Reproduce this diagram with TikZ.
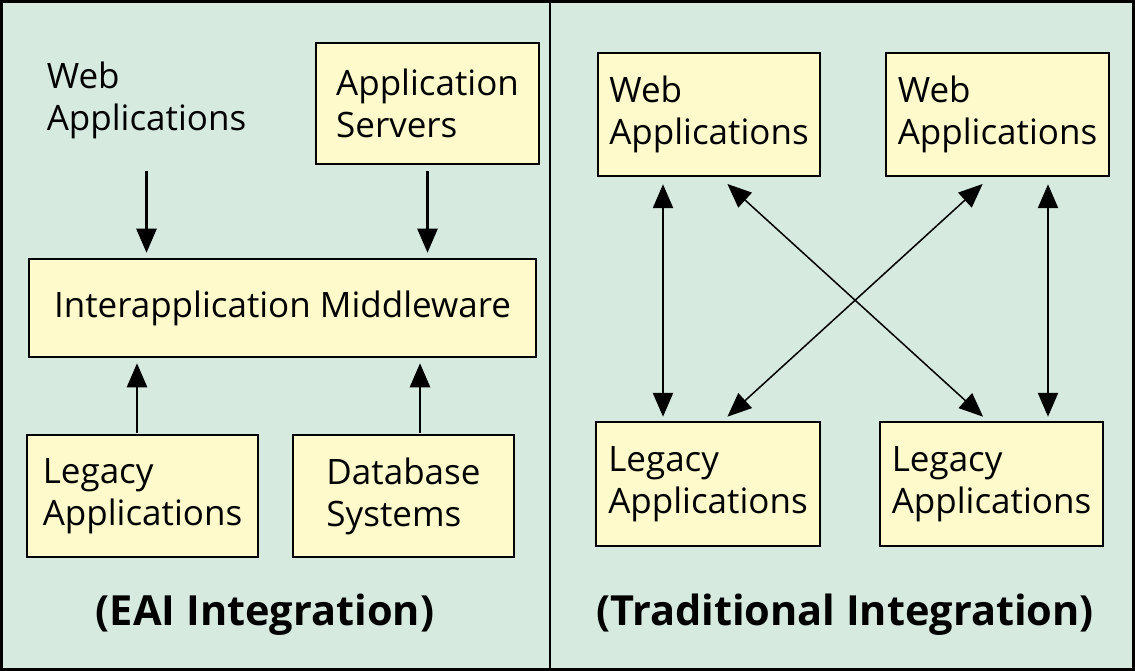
\documentclass[tikz,border=0pt]{standalone}
\usepackage{fontspec}
\setmainfont{Open Sans}
\usepackage{tikz}
\usetikzlibrary{arrows.meta}
\definecolor{panelgreen}{RGB}{214,234,223}
\definecolor{boxyellow}{RGB}{255,250,204}
\tikzstyle{label} = [align=left, font=\fontsize{35}{42}\selectfont]
\tikzstyle{app} = [label, draw, line width=2.5pt, fill=boxyellow, inner sep=0pt]
\tikzstyle{caption} = [font=\fontsize{41.5}{48}\selectfont\bfseries]
\tikzstyle{feed} = [line width=2.5pt, -{Triangle[width=20pt,length=24pt]}]
\tikzstyle{both} = [line width=2.5pt, {Triangle[width=20pt,length=24pt]}-{Triangle[width=20pt,length=24pt]}]
\tikzstyle{cross} = [line width=1.5pt, {Triangle[width=20pt,length=24pt]}-{Triangle[width=20pt,length=24pt]}]

\begin{document}
\begin{tikzpicture}[x=1pt, y=-1pt]
\useasboundingbox (0,0) rectangle (1135,671);
\fill[panelgreen] (0,0) rectangle (1135,671);
\draw[line width=3pt] (1.5,1.5) rectangle (1133.5,669.5);
\draw[line width=2.5pt] (550,0) -- (550,671);

% EAI side
\node[label] (webL) at (146.5,100) {Web\\Applications};
\node[app, minimum width=223pt, minimum height=121pt] (servers) at (427.5,103.5)
    {Application\\Servers};
\node[app, minimum width=507pt, minimum height=98pt] (middle) at (282.5,308)
    {Interapplication Middleware};
\node[app, minimum width=231pt, minimum height=122pt] (legacyL) at (142.5,496)
    {Legacy\\Applications};
\node[app, minimum width=221pt, minimum height=122pt] (dbase) at (403.5,496)
    {Database\\Systems};
\node[caption] (eai) at (265,615) {(EAI Integration)};

\draw[feed, shorten <=6pt, shorten >=5pt] (webL.south |- servers.south) -- (webL.south |- middle.north);
\draw[feed, shorten <=6pt, shorten >=5pt] (servers.south) -- (servers.south |- middle.north);
\draw[feed, shorten <=1pt, shorten >=5pt] ([xshift=-5.5pt]legacyL.north) -- ([xshift=-5.5pt]legacyL.north |- middle.south);
\draw[feed, shorten <=1pt, shorten >=5pt] ([xshift=16.5pt]dbase.north) -- ([xshift=16.5pt]dbase.north |- middle.south);

% traditional side
\node[app, minimum width=222pt, minimum height=123pt] (webA) at (709,114.5)
    {Web\\Applications};
\node[app, minimum width=223pt, minimum height=123pt] (webB) at (997.5,114.5)
    {Web\\Applications};
\node[app, minimum width=224pt, minimum height=124pt] (legacyA) at (708,484)
    {Legacy\\Applications};
\node[app, minimum width=223pt, minimum height=124pt] (legacyB) at (991.5,484)
    {Legacy\\Applications};
\node[caption] (trad) at (845,615) {(Traditional Integration)};

\draw[both, shorten <=7pt, shorten >=4pt] ([xshift=-46pt]webA.south) -- ([xshift=-46pt]webA.south |- legacyA.north);
\draw[both, shorten <=7pt, shorten >=4pt] ([xshift=50.5pt]webB.south) -- ([xshift=50.5pt]webB.south |- legacyB.north);
\draw[cross, shorten <=10pt, shorten >=6pt] ([xshift=11pt]webA.south) -- ([xshift=-4pt]legacyB.north);
\draw[cross, shorten <=10pt, shorten >=6pt] ([xshift=-7.5pt]webB.south) -- ([xshift=15pt]legacyA.north);
\end{tikzpicture}
\end{document}
